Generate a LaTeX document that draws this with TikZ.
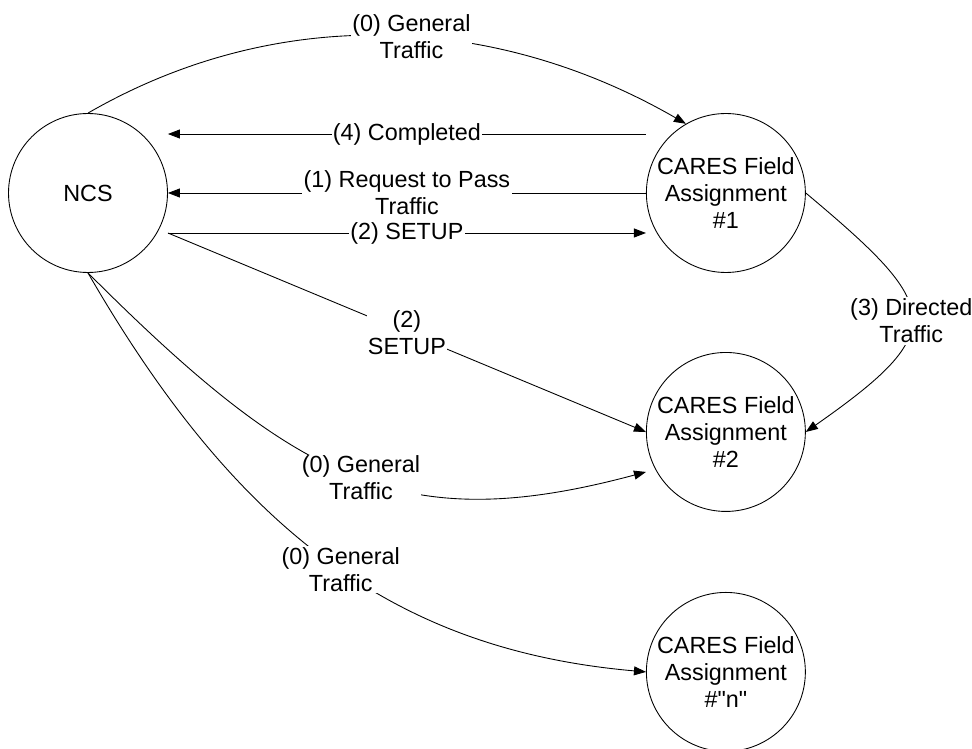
\documentclass[tikz,border=0pt]{standalone}
\usepackage{fontspec}
\setmainfont{Liberation Sans}[Ligatures=TeXOff]
\usetikzlibrary{arrows.meta}

\begin{document}
\begin{tikzpicture}[
    x=0.02cm, y=-0.02cm,
    node distance=4.8cm,
    font=\fontsize{13.3}{15.4}\selectfont,
    station/.style={
        circle,
        draw=black,
        line width=0.5pt,
        minimum size=3.18cm,
        inner sep=0pt,
        align=center
    },
    lbl/.style={
        fill=white,
        inner sep=0.8pt,
        align=center
    },
    arrow/.style={
        ->,
        >={Triangle[length=0.24cm,width=0.18cm]},
        line width=0.5pt,
        black
    }
]

\clip (0,0) rectangle (972,749);

% --- Net control and field assignments ---
\node[station] (ncs) at (88,193) {NCS};
\node[station, right of=ncs, node distance=12.76cm] (fa1) {CARES Field\\Assignment\\\#1};
\node[station, below of=fa1, node distance=4.78cm] (fa2) {CARES Field\\Assignment\\\#2};
\node[station, below of=fa2] (fan) {CARES Field\\Assignment\\\#"n"};

% --- Straight message lines ---
\draw[arrow] ([yshift=1.18cm]fa1.west) -- node[lbl] {(4) Completed} ([yshift=1.18cm]ncs.east);
\draw[arrow] (fa1.west) -- node[lbl] {(1) Request to Pass\\Traffic} (ncs.east);
\draw[arrow] ([yshift=-0.8cm]ncs.east) -- node[lbl] {(2) SETUP} ([yshift=-0.8cm]fa1.west);
\draw[arrow] ([yshift=-0.8cm]ncs.east) -- node[lbl] {(2)\\SETUP} (fa2.west);

% --- General traffic (curved) ---
\draw[arrow] (ncs.north) .. controls +(30:4.4cm) and +(150:4.4cm) .. (fa1.120)
    node[lbl, pos=0.54] {(0) General\\Traffic};
\draw[arrow] (ncs.south) .. controls +(-45:6cm) and +(195:5cm) .. ([yshift=-0.8cm]fa2.west)
    node[lbl, pos=0.51] {(0) General\\Traffic};
\draw[arrow] (ncs.south) .. controls +(-60:6cm) and +(175:5cm) .. (fan.west)
    node[lbl, pos=0.52] {(0) General\\Traffic};

% --- Directed traffic between assignments ---
\draw[arrow] (fa1.east) .. controls +(-40:3.55cm) and +(35:3.55cm) .. (fa2.east)
    node[lbl, pos=0.52] {(3) Directed\\Traffic};

\end{tikzpicture}
\end{document}
